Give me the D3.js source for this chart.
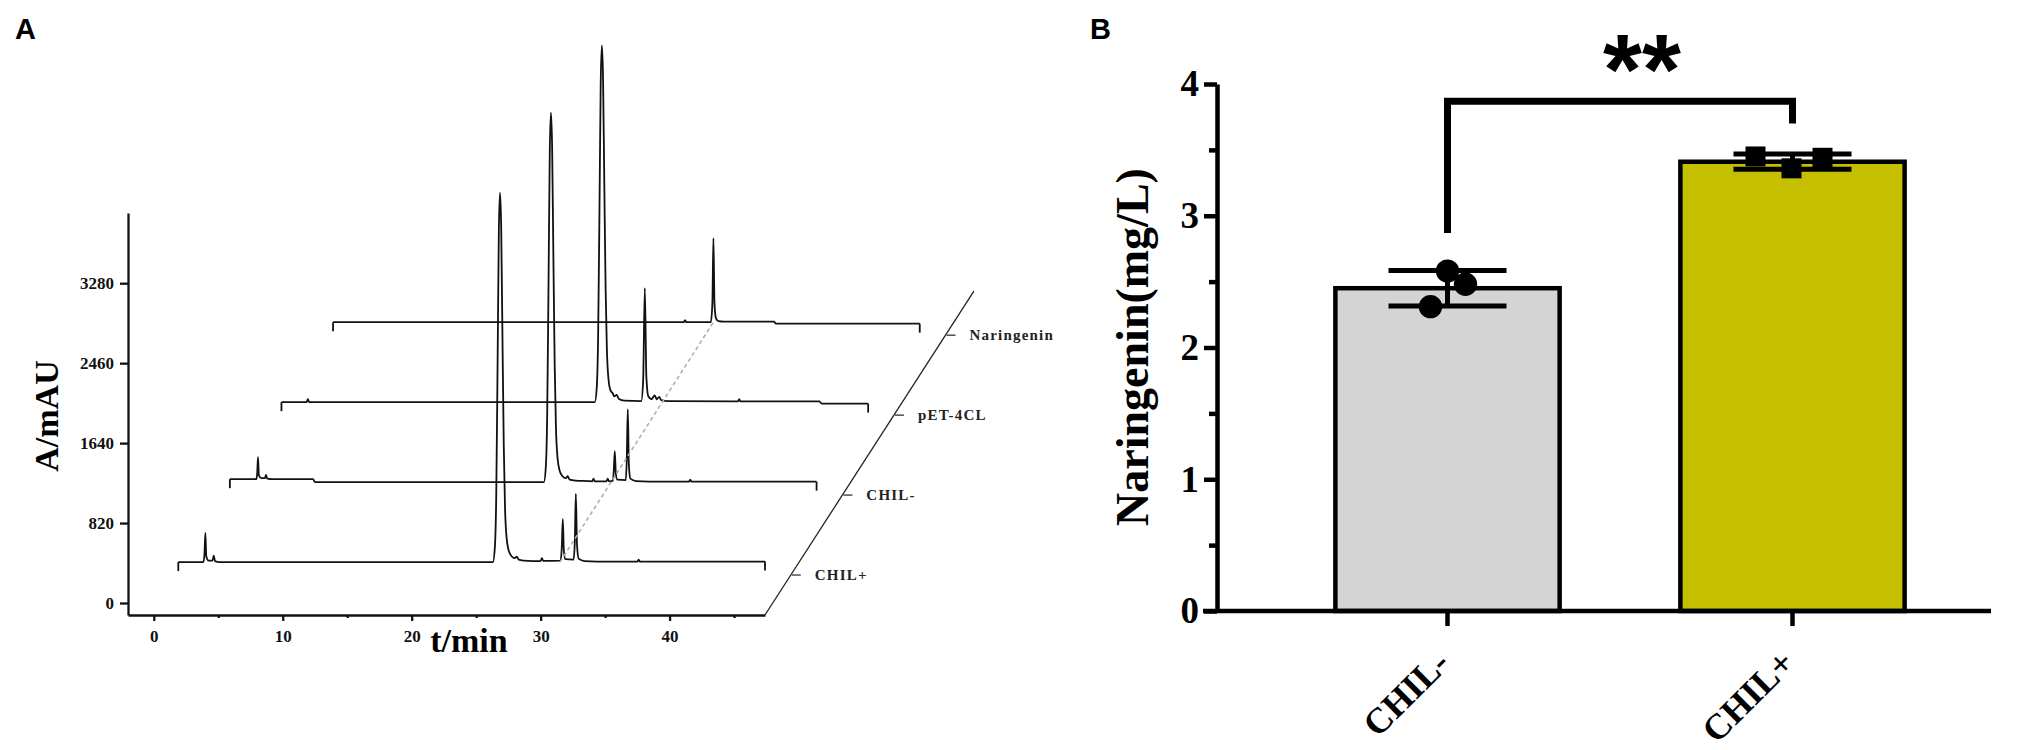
<!DOCTYPE html>
<html>
<head>
<meta charset="utf-8">
<script src="https://cdn.jsdelivr.net/npm/d3@7"></script>
<style>
body { margin: 0; background: #fff; }
</style>
</head>
<body>
<div id="vis"></div>
<script>
// ---------- data ----------
// panel A: chromatograms, [time (min), absorbance above own baseline (mAU)]
var chilPlus = [[0,0],[1.95,0],[2.03,80],[2.1,300],[2.17,60],[2.35,15],[2.65,15],[2.75,65],[2.85,10],[3.2,0],
  [24.4,0],[24.55,150],[24.66,700],[24.76,2000],[24.86,3400],[24.95,3790],[25.04,3450],[25.14,2300],[25.24,1200],
  [25.34,550],[25.46,250],[25.62,120],[25.85,60],[26.1,40],[26.25,55],[26.4,25],[26.8,15],[27.5,10],
  [28.1,10],[28.2,40],[28.3,12],[29.65,15],[29.74,150],[29.82,440],[29.9,120],[30.02,30],
  [30.65,25],[30.75,200],[30.83,700],[30.92,180],[31.05,35],[31.5,10],[32.5,5],[35.6,5],[35.7,25],[35.8,5],[45.5,5]];
var chilMinus = [[0,30],[2.05,30],[2.12,90],[2.18,255],[2.25,70],[2.45,40],[2.72,40],[2.8,75],[2.9,35],[3.3,30],[6.45,30],[6.6,0],
  [24.35,0],[24.5,150],[24.61,700],[24.71,2000],[24.81,3400],[24.9,3790],[24.99,3450],[25.09,2300],[25.19,1200],
  [25.29,550],[25.41,250],[25.57,120],[25.8,60],[26.05,40],[26.2,60],[26.35,25],[26.8,15],[27.8,10],
  [28.1,8],[28.2,35],[28.3,8],[29.2,8],[29.3,35],[29.4,8],[29.7,12],[29.77,110],[29.85,318],[29.93,90],[30.05,25],
  [30.7,20],[30.78,230],[30.86,748],[30.94,190],[31.06,35],[31.5,10],[32.5,5],[35.6,5],[35.7,25],[35.8,5],[45.5,5]];
var pet4cl = [[0,0],[1.95,0],[2.05,30],[2.15,0],
  [24.3,0],[24.45,145],[24.56,680],[24.66,1930],[24.76,3280],[24.85,3660],[24.94,3330],[25.04,2220],[25.14,1160],
  [25.24,530],[25.36,240],[25.52,120],[25.7,90],[25.8,60],[26.0,75],[26.15,35],[26.6,15],[27.9,10],
  [28.05,220],[28.18,1170],[28.3,260],[28.45,60],[28.7,30],[28.95,70],[29.1,30],[29.3,55],[29.45,20],[30,10],
  [35.4,8],[35.5,30],[35.6,8],[41.7,8],[41.9,-15],[45.5,-15]];
var naringeninStd = [[0,0],[27.2,0],[27.3,20],[27.4,0],[29.3,0],[29.42,200],[29.5,861],[29.58,200],[29.7,40],
  [29.9,10],[30.3,5],[34.2,5],[34.35,-15],[45.5,-15]];

var traces = [chilPlus, chilMinus, pet4cl, naringeninStd];
var traceNames = ["CHIL+", "CHIL-", "pET-4CL", "Naringenin"];
var traceBase = [420, 1240, 2060, 2880];   // waterfall offset of each baseline (mAU)
var traceShift = [1.9, 5.9, 9.9, 13.9];    // waterfall offset of each trace (min)
var narRT = [29.6, 29.5];                  // naringenin peak: CHIL+ trace, standard trace
var yTicksA = [0, 820, 1640, 2460, 3280];
var xTicksA = [0, 10, 20, 30, 40];
var xMinorA = [5, 15, 25, 35, 45];

// panel B: naringenin titre (mg/L)
var groups = ["CHIL-", "CHIL+"];
var groupMean = [2.45, 3.41];
var groupSD = [0.135, 0.058];
var replicates = [[2.58, 2.48, 2.31], [3.45, 3.36, 3.44]];
var yTicksB = [0, 1, 2, 3, 4];
var yMinorB = [0.5, 1.5, 2.5, 3.5];

// ---------- setup ----------
var w = 2033;
var h = 750;
var serif = "'Liberation Serif', 'Times New Roman', serif";
var sans = "'Liberation Sans', Arial, sans-serif";

var svg = d3.select("#vis")
.append("svg")
.attr("width", w)
.attr("height", h)
.style("background", "#fff");

// ---------- panel A ----------
var xA = d3.scaleLinear().domain([-2, 47.4]).range([128, 765]);
var yA = d3.scaleLinear().domain([-123, 4000]).range([615, 213]);

var depthStep = traceShift[1] - traceShift[0];
var baseStep = traceBase[1] - traceBase[0];

var line = d3.line().curve(d3.curveMonotoneX);

var gA = svg.append("g");

// traces
traces.forEach(function(tr, i) {
  var pts = tr.map(d => [xA(d[0] + traceShift[i]), yA(d[1] + traceBase[i])]);
  gA.append("path")
  .attr("d", line(pts))
  .attr("fill", "none")
  .attr("stroke", "#111")
  .attr("stroke-width", 1.8);
  // little end drops of each trace
  [pts[0], pts[pts.length - 1]].forEach(function(p) {
    gA.append("line")
    .attr("x1", p[0]).attr("x2", p[0])
    .attr("y1", p[1]).attr("y2", p[1] + 9)
    .attr("stroke", "#111")
    .attr("stroke-width", 1.8);
  });
});

// dashed guide through the naringenin peaks
gA.append("line")
.attr("x1", xA(narRT[0] + traceShift[0]))
.attr("y1", yA(traceBase[0]))
.attr("x2", xA(narRT[1] + traceShift[3]))
.attr("y2", yA(traceBase[3]))
.attr("stroke", "#b0b0b0")
.attr("stroke-width", 1.6)
.attr("stroke-dasharray", "4,3");

// axes
var yAxisA = gA.append("g")
.attr("transform", "translate(128,0)")
.call(d3.axisLeft(yA).tickValues(yTicksA).tickFormat(d3.format("d"))
  .tickSize(8).tickSizeOuter(0).tickPadding(6));

var xAxisA = gA.append("g")
.attr("transform", "translate(0,615)")
.call(d3.axisBottom(xA).tickValues(xTicksA).tickFormat(d3.format("d"))
  .tickSize(6).tickSizeOuter(0).tickPadding(9));

gA.append("g")
.attr("transform", "translate(0,615)")
.call(d3.axisBottom(xA).tickValues(xMinorA).tickSize(3).tickFormat(""))
.select(".domain").remove();

gA.selectAll(".domain, .tick line")
.attr("stroke", "#111")
.attr("stroke-width", 2.3);

[yAxisA, xAxisA].forEach(function(ax) {
  ax.selectAll("text")
  .attr("font-family", serif)
  .attr("font-weight", "bold")
  .attr("font-size", 17)
  .attr("fill", "#111");
});

// depth axis
var kEnd = 4.05;
gA.append("line")
.attr("x1", xA(47.4)).attr("y1", yA(-123))
.attr("x2", xA(47.4 + depthStep * kEnd)).attr("y2", yA(-123 + baseStep * kEnd))
.attr("stroke", "#222")
.attr("stroke-width", 1.3);

traceNames.forEach(function(name, i) {
  var k = i + 0.5;
  var px = xA(47.4 + depthStep * k);
  var py = yA(-123 + baseStep * k);
  gA.append("line")
  .attr("x1", px + 1).attr("x2", px + 10)
  .attr("y1", py).attr("y2", py)
  .attr("stroke", "#222")
  .attr("stroke-width", 1.2);
  gA.append("text")
  .attr("x", px + 24)
  .attr("y", py)
  .attr("dy", "0.35em")
  .attr("font-family", serif)
  .attr("font-weight", "bold")
  .attr("font-size", 15)
  .attr("letter-spacing", 1.2)
  .attr("fill", "#222")
  .text(name);
});

// titles
gA.append("text")
.attr("transform", "translate(58,416) rotate(-90)")
.attr("text-anchor", "middle")
.attr("font-family", serif)
.attr("font-weight", "bold")
.attr("font-size", 34)
.text("A/mAU");

gA.append("text")
.attr("x", 469)
.attr("y", 652)
.attr("text-anchor", "middle")
.attr("font-family", serif)
.attr("font-weight", "bold")
.attr("font-size", 34)
.text("t/min");

svg.append("text")
.attr("x", 15).attr("y", 39)
.attr("font-family", sans).attr("font-weight", "bold").attr("font-size", 29)
.text("A");

// ---------- panel B ----------
var xB = d3.scaleBand().domain(groups).range([1275, 1965]).paddingInner(0.35).paddingOuter(0.175);
var yB = d3.scaleLinear().domain([0, 4]).range([611, 84]);
var barColors = ["#d4d4d4", "#c4c000"];
var dotJitter = [[0, 18, -17], [-37, -1, 30]];
var bw = xB.bandwidth();

var gB = svg.append("g");

gB.selectAll("rect")
.data(groups)
.enter()
.append("rect")
.attr("x", d => xB(d))
.attr("y", (d, i) => yB(groupMean[i]))
.attr("width", bw)
.attr("height", (d, i) => yB(0) - yB(groupMean[i]))
.attr("fill", (d, i) => barColors[i])
.attr("stroke", "#000")
.attr("stroke-width", 4.5);

// error bars
groups.forEach(function(g, i) {
  var cx = xB(g) + bw / 2;
  var lo = yB(groupMean[i] - groupSD[i]);
  var hi = yB(groupMean[i] + groupSD[i]);
  gB.append("line").attr("x1", cx).attr("x2", cx).attr("y1", lo).attr("y2", hi)
  .attr("stroke", "#000").attr("stroke-width", 5);
  [lo, hi].forEach(function(yy) {
    gB.append("line").attr("x1", cx - 59).attr("x2", cx + 59).attr("y1", yy).attr("y2", yy)
    .attr("stroke", "#000").attr("stroke-width", 5);
  });
});

// replicate points
var symbols = [d3.symbolCircle, d3.symbolSquare];
groups.forEach(function(g, i) {
  var cx = xB(g) + bw / 2;
  gB.selectAll(".rep" + i)
  .data(replicates[i])
  .enter()
  .append("path")
  .attr("d", d3.symbol().type(symbols[i]).size(i == 0 ? 430 : 400))
  .attr("transform", (d, j) => `translate(${cx + dotJitter[i][j]},${yB(d)})`)
  .attr("fill", "#000");
});

// axes
var yAxisB = gB.append("g")
.attr("transform", "translate(1217,0)")
.call(d3.axisLeft(yB).tickValues(yTicksB).tickFormat(d3.format("d"))
  .tickSize(13).tickSizeOuter(0).tickPadding(5));

gB.append("g")
.attr("transform", "translate(1217,0)")
.call(d3.axisLeft(yB).tickValues(yMinorB).tickSize(8).tickFormat(""))
.select(".domain").remove();

gB.append("line")
.attr("x1", 1203).attr("x2", 1991)
.attr("y1", yB(0)).attr("y2", yB(0))
.attr("stroke", "#000")
.attr("stroke-width", 4.5);

var xAxisB = gB.append("g")
.attr("transform", `translate(0,${yB(0)})`)
.call(d3.axisBottom(xB).tickSize(15).tickSizeOuter(0));
xAxisB.select(".domain").remove();

gB.selectAll(".domain, .tick line")
.attr("stroke", "#000")
.attr("stroke-width", 4.5);

yAxisB.selectAll("text")
.attr("font-family", serif)
.attr("font-weight", "bold")
.attr("font-size", 37)
.attr("fill", "#000");

xAxisB.selectAll("text")
.attr("x", 0).attr("y", 0).attr("dy", "0.35em")
.attr("transform", "translate(-5,45) rotate(-45)")
.attr("text-anchor", "end")
.attr("font-family", serif)
.attr("font-weight", "bold")
.attr("font-size", 36)
.attr("fill", "#000");

gB.append("text")
.attr("transform", "translate(1148,347) rotate(-90)")
.attr("text-anchor", "middle")
.attr("font-family", serif)
.attr("font-weight", "bold")
.attr("font-size", 46)
.text("Naringenin(mg/L)");

// significance bracket
var bx1 = xB(groups[0]) + bw / 2;
var bx2 = xB(groups[1]) + bw / 2;
gB.append("path")
.attr("d", `M${bx1},${yB(2.87)}V${yB(3.87)}H${bx2}V${yB(3.70)}`)
.attr("fill", "none")
.attr("stroke", "#000")
.attr("stroke-width", 7);

gB.append("text")
.attr("x", 1642)
.attr("y", 104)
.attr("text-anchor", "middle")
.attr("font-family", sans)
.attr("font-weight", "bold")
.attr("font-size", 100)
.text("**");

svg.append("text")
.attr("x", 1090).attr("y", 39)
.attr("font-family", sans).attr("font-weight", "bold").attr("font-size", 29)
.text("B");
</script>
</body>
</html>
